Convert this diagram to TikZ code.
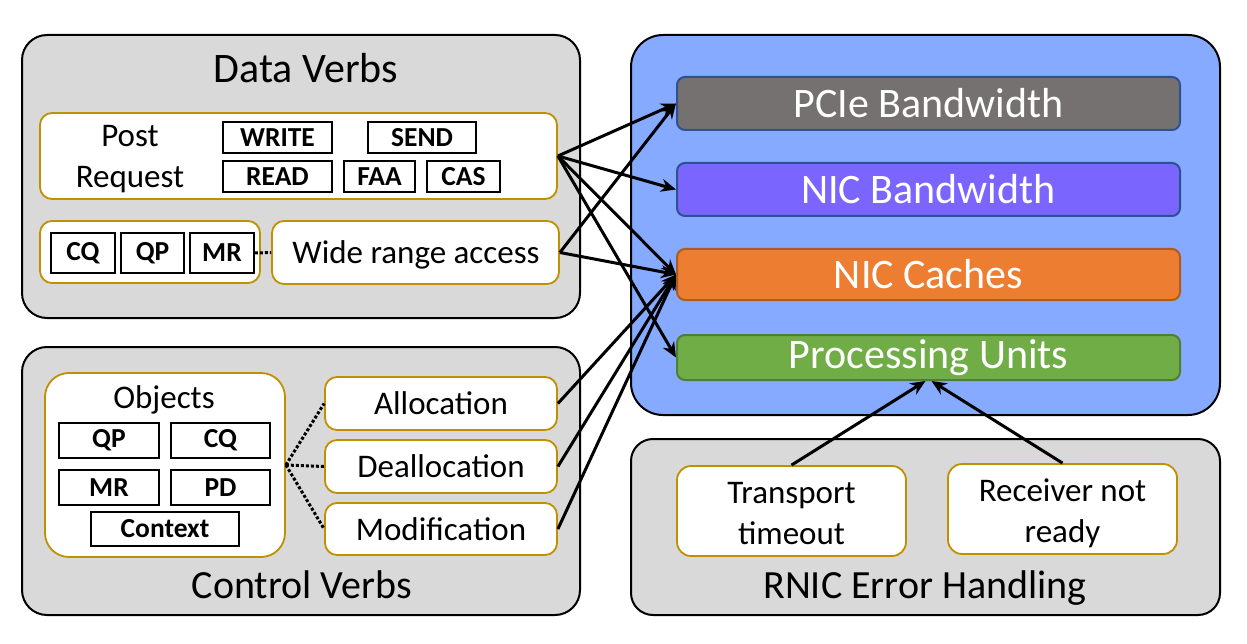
\documentclass[tikz,border=0pt]{standalone}
\usepackage{fontspec}
\setmainfont{Carlito}
\usetikzlibrary{arrows.meta}
\newcommand\mytxt{\fontsize{33}{40}\selectfont}
\newcommand\mytitle{\fontsize{40}{48}\selectfont}
\newcommand\mybig{\fontsize{42}{50}\selectfont}
\newcommand\mylab{\fontsize{27.5}{32}\selectfont\bfseries}
\definecolor{panelgray}{HTML}{D9D9D9}
\definecolor{gold}{HTML}{BF9000}
\definecolor{nicblue}{HTML}{86AAFF}
\definecolor{darkblue}{HTML}{2F528F}
\definecolor{pciegray}{HTML}{767171}
\definecolor{nicpurple}{HTML}{7A65FF}
\definecolor{cacheorange}{HTML}{ED7D31}
\definecolor{cacheborder}{HTML}{AE5A21}
\definecolor{pugreen}{HTML}{70AD47}
\definecolor{puborder}{HTML}{507E32}
\tikzset{
  panel/.style={draw=black, line width=2pt, fill=panelgray, rounded corners=25pt, inner sep=0pt},
  goldbox/.style={draw=gold, line width=1.8pt, fill=white, rounded corners=12pt, inner sep=0pt, font=\mytxt},
  lab/.style={draw=black, line width=1.6pt, fill=white, inner sep=0pt, font=\mylab},
  bar/.style={line width=2pt, rounded corners=8pt, inner sep=0pt, font=\mybig, text=white, minimum width=503pt},
  arr/.style={line width=3pt, -{Stealth[length=15pt,width=13pt]}},
  dots/.style={line width=3pt, dotted},
}
\begin{document}
\begin{tikzpicture}[x=1pt,y=-1pt]
\useasboundingbox (0,0) rectangle (1247,644);
% ---------- Data Verbs ----------
\node[panel, minimum width=558pt, minimum height=283pt] (dv) at (301,176.5) {};
\node[font=\mybig] (dvt) at (306,68) {Data Verbs};
\node[goldbox, minimum width=517pt, minimum height=86pt] (post) at (298.5,156) {};
\node[font=\mytxt, align=center] (postt) at (130,159) {Post\\[1pt]Request};
\node[lab, minimum width=109pt, minimum height=31pt] (write) at (277.5,137.5) {WRITE};
\node[lab, minimum width=108pt, minimum height=31pt] (send) at (422,137.5) {SEND};
\node[lab, minimum width=109pt, minimum height=31pt] (read) at (277.5,176.5) {READ};
\node[lab, minimum width=71pt, minimum height=31pt] (faa) at (379.5,176.5) {FAA};
\node[lab, minimum width=73pt, minimum height=31pt] (cas) at (463.5,176.5) {CAS};
\node[goldbox, minimum width=220pt, minimum height=62pt] (objs) at (150,252) {};
\node[lab, minimum width=64pt, minimum height=40pt] (cq) at (83,253) {CQ};
\node[lab, minimum width=63pt, minimum height=40pt] (qp) at (152.5,253) {QP};
\node[lab, minimum width=64pt, minimum height=40pt] (mr) at (222,253) {MR};
\node[goldbox, minimum width=287pt, minimum height=63pt] (wide) at (415.5,252.5) {};
\node[font=\mytxt] (widet) at (416,255) {Wide range access};
\draw[dots] (mr.east) -- (wide.west);
% ---------- Control Verbs ----------
\node[panel, minimum width=558pt, minimum height=268pt] (cv) at (301,481) {};
\node[font=\mytitle] (cvt) at (302,585) {Control Verbs};
\node[goldbox, rounded corners=24pt, minimum width=240pt, minimum height=184pt] (objects) at (165,465) {};
\node[font=\mytxt] (objt) at (164,400) {Objects};
\node[lab, minimum width=100pt, minimum height=35pt] (qp2) at (109,440.5) {QP};
\node[lab, minimum width=99pt, minimum height=35pt] (cq2) at (220.5,440.5) {CQ};
\node[lab, minimum width=100pt, minimum height=35pt] (mr2) at (109,487.5) {MR};
\node[lab, minimum width=99pt, minimum height=35pt] (pd) at (220.5,487.5) {PD};
\node[lab, minimum width=148pt, minimum height=34pt] (ctx) at (165,529) {Context};
\node[goldbox, minimum width=232pt, minimum height=53pt] (alloc) at (441,403.5) {Allocation};
\node[goldbox, minimum width=232pt, minimum height=53pt] (dealloc) at (441,466.5) {Deallocation};
\node[goldbox, minimum width=232pt, minimum height=52pt] (modif) at (441,529) {Modification};
\draw[dots] (objects.east) -- (alloc.west);
\draw[dots] (objects.east) -- (dealloc.west);
\draw[dots] (objects.east) -- (modif.west);
% ---------- RNIC ----------
\node[panel, fill=nicblue, rounded corners=32pt, minimum width=589pt, minimum height=380pt] (rnic) at (925.5,225) {};
\node[bar, draw=darkblue, fill=pciegray, minimum height=53pt] (pcie) at (928.5,103.5) {PCIe Bandwidth};
\node[bar, draw=darkblue, fill=nicpurple, minimum height=53pt] (nicbw) at (928.5,189.5) {NIC Bandwidth};
\node[bar, draw=cacheborder, fill=cacheorange, minimum height=51pt] (cache) at (928.5,274.5) {NIC Caches};
\node[bar, draw=puborder, fill=pugreen, minimum height=45pt] (pu) at (928.5,357.5) {Processing Units};
% ---------- Error handling ----------
\node[panel, rounded corners=22pt, minimum width=589pt, minimum height=176pt] (err) at (925.5,527) {};
\node[font=\mytitle] (errt) at (925,588) {RNIC Error Handling};
\node[goldbox, rounded corners=14pt, minimum width=229pt, minimum height=90pt] (tto) at (791.5,511) {};
\node[font=\mytxt, align=center] (ttot) at (791.5,514) {Transport\\[1pt]timeout};
\node[goldbox, rounded corners=14pt, minimum width=229pt, minimum height=90pt] (rnr) at (1062.5,509) {};
\node[font=\mytxt, align=center] (rnrt) at (1062.5,513) {Receiver not\\[1pt]ready};
% ---------- arrows ----------
\draw[arr] (post.east) -- (pcie.west);
\draw[arr] (post.east) -- (nicbw.west);
\draw[arr] (post.east) -- (cache.west);
\draw[arr] (post.east) -- (pu.west);
\draw[arr] (wide.east) -- (pcie.west);
\draw[arr] (wide.east) -- (cache.west);
\draw[arr] (alloc.east) -- (cache.west);
\draw[arr] (dealloc.east) -- (cache.west);
\draw[arr] (modif.east) -- (cache.west);
\draw[arr] (tto.north) -- ([xshift=-3pt]pu.south);
\draw[arr] (rnr.north) -- ([xshift=3pt]pu.south);
\end{tikzpicture}
\end{document}
